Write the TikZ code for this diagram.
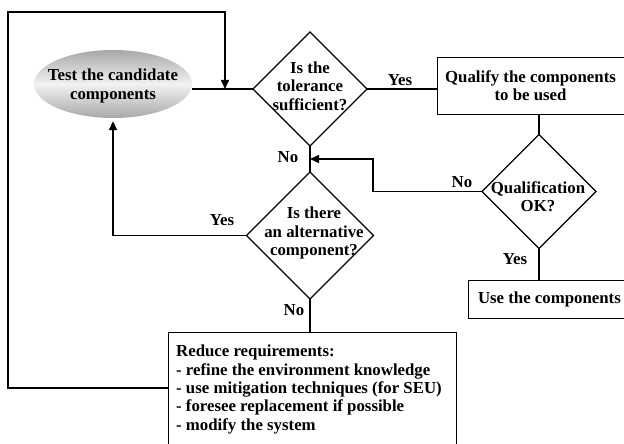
\documentclass[tikz,border=0pt]{standalone}
\usepackage{fontspec}
\setmainfont{Liberation Serif}
\usetikzlibrary{shapes.geometric, arrows.meta, positioning}
\definecolor{ovaldark}{RGB}{168,168,168}
\definecolor{ovallight}{RGB}{242,242,242}

\begin{document}
\begin{tikzpicture}[x=1pt, y=-1pt,
    every node/.style={font=\bfseries\fontsize{16.8}{18.3}\selectfont},
    decision/.style={diamond, draw, line width=1.2pt, minimum width=#1, minimum height=#1, inner sep=0pt, outer sep=0pt},
    box/.style={draw, line width=0.8pt, outer sep=0pt},
    oval/.style={ellipse, top color=ovaldark, bottom color=ovaldark, middle color=ovallight, minimum width=158pt, minimum height=68pt, inner sep=0pt},
    line/.style={line width=1.6pt},
    arr/.style={line width=1.6pt, -{Triangle[length=9pt,width=8pt]}}]
    \useasboundingbox (0,0) rectangle (624,444);

    % start
    \node[oval] (test) at (113,84) {};
    \node[align=center] (test-txt) at (113,86) {Test the candidate\\components};

    % decisions
    \node[decision=114pt] (tol) at (310,89) {};
    \node[align=center] (tol-txt) at (310,86) {Is the\\tolerance\\sufficient?};
    \node[decision=127pt] (alt) at (310,235.5) {};
    \node[align=center] (alt-txt) at (314,233) {Is there\\an alternative\\component?};
    \node[decision=114pt] (ok) at (539,191.5) {};
    \node[align=center] (ok-txt) at (538,197) {Qualification\\OK?};

    % boxes
    \node[box, minimum width=187pt, minimum height=57pt, align=center] (qual) at (530.5,85.5) {Qualify the components\\to be used};
    \node[box, anchor=west, minimum height=38pt, inner xsep=10pt] (use) at (468,299) {Use the components};
    \node[box, anchor=north west, minimum width=288pt, minimum height=130pt] (reduce) at (168,332) {};
    \node[anchor=north west, align=left, inner sep=0pt] (reduce-txt) at (176,345) {Reduce requirements:\\- refine the environment knowledge\\- use mitigation techniques (for SEU)\\- foresee replacement if possible\\- modify the system};

    % connectors
    \coordinate (back) at (8,388);
    \coordinate (corner) at (8,12);
    \coordinate (entry) at (225,89);
    \coordinate (join) at (310,159);
    \draw[line] (test.east |- tol.west) -- (tol.west);
    \draw[arr] (reduce.west |- back) -- (back) -- (corner) -| (entry);
    \draw[line] (tol.east) -- (tol.east -| qual.west);
    \draw[line] (ok.north |- qual.south) -- (ok.north);
    \draw[arr] (ok.west) -- (373,191.5) |- (join);
    \draw[line] (tol.south) -- (alt.north);
    \draw[arr] (alt.west) -| ([yshift=-3pt]test.south);
    \draw[line] (alt.south) -- (alt.south |- reduce.north);
    \draw[line] (ok.south) -- (ok.south |- use.north);

    % labels
    \node (yes-tol) at (400,80) {Yes};
    \node (no-tol) at (288,157) {No};
    \node (no-ok) at (462,182) {No};
    \node (yes-ok) at (515,259) {Yes};
    \node (yes-alt) at (222,220) {Yes};
    \node (no-alt) at (294,310) {No};
\end{tikzpicture}
\end{document}
